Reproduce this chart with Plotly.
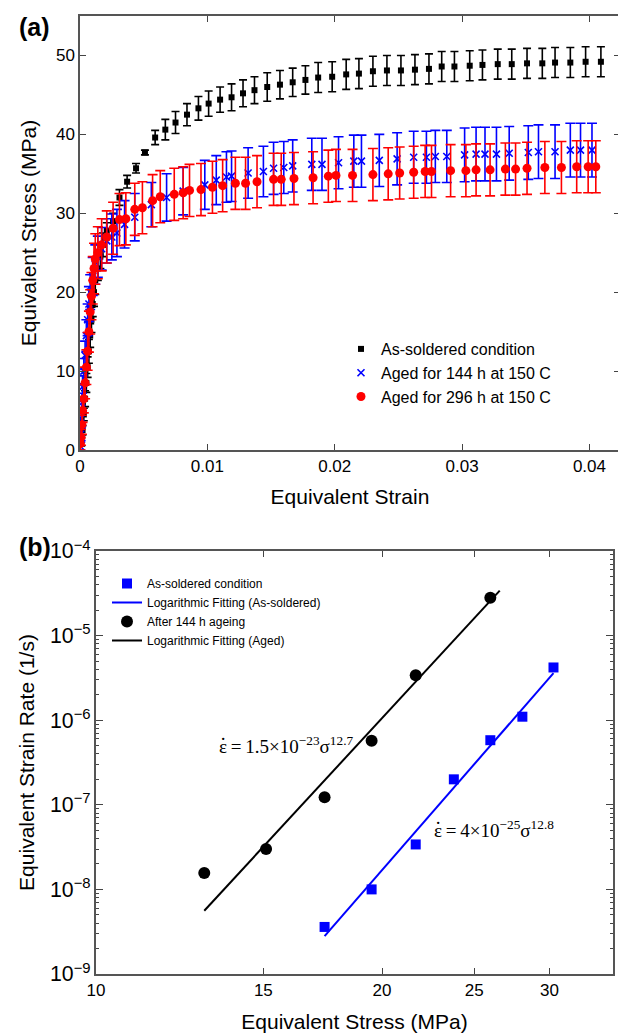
import plotly.graph_objects as go
import math

# ---------------- Panel (a) data ----------------
black_strain = [0.0001, 0.0002, 0.0003, 0.0004, 0.0005, 0.0006, 0.0007, 0.0008, 0.0009, 0.0010,
                0.0011, 0.0012, 0.0014, 0.0016, 0.0018,
                0.0021, 0.0026, 0.0031, 0.0037, 0.0044, 0.0051, 0.0059, 0.0067, 0.0075, 0.0084,
                0.0093, 0.0101, 0.0110, 0.0119, 0.0128, 0.0137, 0.0147, 0.0157, 0.0167, 0.0177,
                0.0187, 0.0198, 0.0209, 0.0219, 0.0230, 0.0241, 0.0252, 0.0263, 0.0274, 0.0284,
                0.0294, 0.0306, 0.0316, 0.0328, 0.0339, 0.0351, 0.0363, 0.0373, 0.0385, 0.0397, 0.0409]
black_stress = [1.0, 2.5, 4.5, 6.5, 8.5, 10.5, 12.5, 14.5, 16.5, 18.5,
                20.0, 21.5, 23.0, 24.5, 26.0,
                27.8, 29.0, 32.0, 34.0, 35.7, 37.7, 39.6, 40.6, 41.5, 42.5,
                43.3, 43.9, 44.4, 44.7, 45.2, 45.6, 46.0, 46.3, 46.6, 46.9,
                47.2, 47.3, 47.6, 47.7, 48.0, 48.1, 48.1, 48.2, 48.3, 48.6,
                48.6, 48.7, 48.8, 48.9, 48.9, 49.0, 49.0, 49.1, 49.1, 49.2, 49.2]
black_err = [0.5, 0.6, 0.8, 1.0, 1.2, 1.3, 1.5, 1.5, 1.6, 1.6,
             1.8, 1.8, 1.5, 1.5, 1.5,
             1.0, 1.0, 1.0, 0.8, 0.6, 0.3, 0.9, 1.3, 1.4, 1.4,
             1.5, 1.6, 1.6, 1.7, 1.7, 1.7, 1.8, 1.8, 1.8, 1.8,
             1.9, 1.9, 1.9, 1.9, 1.9, 1.9, 1.9, 1.9, 1.9, 1.9,
             1.9, 1.9, 1.9, 1.9, 1.9, 1.9, 1.9, 1.9, 1.9, 1.9, 1.9]

blue_strain = [0.00002, 0.00005, 0.0001, 0.00015, 0.0002, 0.0003, 0.0004, 0.0005, 0.0006, 0.0007,
               0.0008, 0.0010, 0.0012, 0.0014, 0.0017, 0.0021, 0.0025,
               0.0029, 0.0035, 0.0043, 0.0056, 0.0068, 0.0081, 0.0098, 0.0107, 0.0115, 0.0119,
               0.0132, 0.0144, 0.0152, 0.0160, 0.0167, 0.0182, 0.0190, 0.0203, 0.0215, 0.0221,
               0.0235, 0.0249, 0.0262, 0.0272, 0.0279, 0.0288, 0.0302, 0.0311, 0.0318, 0.0327,
               0.0337, 0.0352, 0.0360, 0.0373, 0.0385, 0.0393, 0.0402]
blue_stress = [0.5, 2.0, 4.0, 6.0, 8.0, 10.0, 12.0, 14.5, 16.5, 18.5,
               20.0, 22.0, 23.5, 24.5, 25.5, 26.5, 27.0,
               27.5, 28.6, 29.5, 31.1, 32.0, 32.8, 33.6, 34.2, 34.6, 34.7,
               35.1, 35.3, 35.7, 35.8, 36.0, 36.2, 36.2, 36.4, 36.6, 36.6,
               36.7, 36.9, 37.1, 37.1, 37.2, 37.2, 37.4, 37.5, 37.5, 37.5,
               37.6, 37.7, 37.8, 37.8, 38.0, 38.0, 38.0]
blue_err = [0.5, 0.8, 1.0, 1.2, 1.4, 1.6, 1.8, 2.0, 2.0, 2.2,
            2.2, 2.4, 2.5, 2.6, 2.7, 2.8, 2.9,
            3.0, 3.0, 3.0, 2.8, 3.0, 3.0, 3.1, 3.1, 3.2, 3.2,
            3.2, 3.2, 3.3, 3.3, 3.3, 3.3, 3.3, 3.3, 3.3, 3.3,
            3.3, 3.3, 3.3, 3.3, 3.3, 3.3, 3.4, 3.4, 3.4, 3.4,
            3.4, 3.4, 3.4, 3.4, 3.4, 3.4, 3.4]

red_strain = [0.00003, 0.00008, 0.00015, 0.0002, 0.0003, 0.0004, 0.0005, 0.0006, 0.0007, 0.0008,
              0.0009, 0.0010, 0.0011, 0.0012, 0.0014, 0.0017,
              0.0021, 0.0026, 0.0031, 0.0036, 0.0043, 0.0049, 0.0057, 0.0063, 0.0074, 0.0081,
              0.0086, 0.0095, 0.0104, 0.0112, 0.0122, 0.0130, 0.0139, 0.0152, 0.0158, 0.0168,
              0.0183, 0.0195, 0.0201, 0.0214, 0.0230, 0.0242, 0.0251, 0.0262, 0.0271, 0.0276,
              0.0291, 0.0303, 0.0311, 0.0322, 0.0334, 0.0342, 0.0351, 0.0365, 0.0378, 0.0390,
              0.0399, 0.0405]
red_stress = [0.8, 1.6, 3.2, 5.0, 6.5, 8.5, 10.5, 12.5, 15.0, 17.5,
              19.5, 21.5, 23.0, 24.2, 25.0, 26.0,
              27.0, 28.1, 29.2, 29.3, 30.5, 30.7, 31.6, 32.1, 32.4, 32.6,
              32.9, 33.0, 33.3, 33.5, 33.8, 33.8, 34.0, 34.3, 34.3, 34.4,
              34.5, 34.7, 34.8, 34.8, 34.9, 35.0, 35.1, 35.2, 35.3, 35.3,
              35.4, 35.4, 35.5, 35.5, 35.6, 35.6, 35.7, 35.8, 35.8, 35.9,
              35.9, 35.9]
red_err = [0.8, 1.0, 1.2, 1.5, 1.8, 2.0, 2.2, 2.4, 2.6, 2.8,
           3.0, 3.0, 3.2, 3.2, 3.3, 3.3,
           3.3, 3.3, 3.3, 3.3, 3.3, 3.3, 3.3, 3.3, 3.3, 3.3,
           3.3, 3.3, 3.3, 3.3, 3.3, 3.3, 3.3, 3.3, 3.3, 3.3,
           3.3, 3.3, 3.3, 3.3, 3.3, 3.3, 3.3, 3.3, 3.3, 3.3,
           3.3, 3.3, 3.3, 3.3, 3.3, 3.3, 3.3, 3.3, 3.3, 3.3,
           3.3, 3.3]

a_xticks = [0, 0.01, 0.02, 0.03, 0.04]
a_xticktext = ["0", "0.01", "0.02", "0.03", "0.04"]
a_yticks = [0, 10, 20, 30, 40, 50]

# ---------------- Panel (b) data ----------------
as_stress = [17.4, 19.5, 21.7, 23.8, 26.0, 28.1, 30.3]
as_rate = [3.6e-9, 1.0e-8, 3.4e-8, 2.0e-7, 5.8e-7, 1.1e-6, 4.2e-6]
aged_stress = [13.0, 15.1, 17.4, 19.5, 21.7, 26.0]
aged_rate = [1.56e-8, 3.0e-8, 1.23e-7, 5.7e-7, 3.4e-6, 2.8e-5]
fit_as_stress = [17.4, 30.3]
fit_as_rate = [2.8e-9, 3.6e-6]
fit_aged_stress = [13.0, 26.6]
fit_aged_rate = [5.6e-9, 3.4e-5]

b_xticks = [10, 15, 20, 25, 30]
b_xticktext = ["10", "15", "20", "25", "30"]

for a, b in [(black_strain, black_stress), (black_strain, black_err), (blue_strain, blue_stress),
             (blue_strain, blue_err), (red_strain, red_stress), (red_strain, red_err)]:
    assert len(a) == len(b), (len(a), len(b))

W, H = 626, 1034
OFF = 8  # page body margin
FONT = "Liberation Sans, Arial, Helvetica, sans-serif"
SERIF = "Liberation Serif, Times New Roman, serif"

fig = go.Figure()

fig.add_trace(go.Scatter(
    x=black_strain, y=black_stress, mode="markers", name="As-soldered condition",
    marker=dict(symbol="square", size=6, color="black"),
    error_y=dict(type="data", array=black_err, color="black", thickness=1.6, width=4),
    xaxis="x", yaxis="y", legend="legend"))
fig.add_trace(go.Scatter(
    x=blue_strain, y=blue_stress, mode="markers", name="Aged for 144 h at 150 C",
    marker=dict(symbol="x-thin", size=7, color="blue", line=dict(width=1.6, color="blue")),
    error_y=dict(type="data", array=blue_err, color="blue", thickness=1.6, width=5),
    xaxis="x", yaxis="y", legend="legend"))
fig.add_trace(go.Scatter(
    x=red_strain, y=red_stress, mode="markers", name="Aged for 296 h at 150 C",
    marker=dict(symbol="circle", size=9, color="red"),
    error_y=dict(type="data", array=red_err, color="red", thickness=1.6, width=5),
    xaxis="x", yaxis="y", legend="legend"))

fig.add_trace(go.Scatter(
    x=as_stress, y=as_rate, mode="markers", name="As-soldered condition",
    marker=dict(symbol="square", size=10, color="blue"),
    xaxis="x2", yaxis="y2", legend="legend2"))
fig.add_trace(go.Scatter(
    x=fit_as_stress, y=fit_as_rate, mode="lines", name="Logarithmic Fitting (As-soldered)",
    line=dict(color="blue", width=2),
    xaxis="x2", yaxis="y2", legend="legend2"))
fig.add_trace(go.Scatter(
    x=aged_stress, y=aged_rate, mode="markers", name="After 144 h ageing",
    marker=dict(symbol="circle", size=12, color="black"),
    xaxis="x2", yaxis="y2", legend="legend2"))
fig.add_trace(go.Scatter(
    x=fit_aged_stress, y=fit_aged_rate, mode="lines", name="Logarithmic Fitting (Aged)",
    line=dict(color="black", width=2),
    xaxis="x2", yaxis="y2", legend="legend2"))

def px_x(p):
    return (p - OFF) / W

def px_y(p):
    return 1 - (p - OFF) / H

axis_common = dict(showgrid=False, zeroline=False, showline=True, mirror="allticks",
                   ticks="inside", tickcolor="#444", linecolor="#555", automargin=False,
                   tickfont=dict(family=FONT, size=17, color="black"))

fig.update_layout(
    width=W, height=H, margin=dict(l=0, r=0, t=0, b=0, autoexpand=False),
    paper_bgcolor="white", plot_bgcolor="white",
    font=dict(family=FONT, color="black"),
    xaxis=dict(domain=[px_x(80), px_x(620)], range=[0, 0.0424], anchor="y",
               tickvals=a_xticks, ticktext=a_xticktext, ticklen=6, linewidth=1.5,
               title=dict(text="Equivalent Strain", font=dict(family=FONT, size=21), standoff=14),
               **axis_common),
    yaxis=dict(domain=[px_y(450), px_y(16)], range=[0, 55], anchor="x",
               tickvals=a_yticks, ticklen=6, linewidth=1.5,
               title=dict(text="Equivalent Stress (MPa)", font=dict(family=FONT, size=21), standoff=14),
               **axis_common),
    xaxis2=dict(domain=[px_x(96), px_x(613)], type="log", range=[1, math.log10(35)], anchor="y2",
                tickvals=b_xticks, ticktext=b_xticktext, ticklen=6, linewidth=2,
                title=dict(text="Equivalent Stress (MPa)", font=dict(family=FONT, size=21), standoff=15),
                **axis_common),
    yaxis2=dict(domain=[px_y(974), px_y(551)], type="log", range=[-9, -4], anchor="x2",
                dtick=1, exponentformat="power", showexponent="all", ticklen=7, linewidth=2,
                minor=dict(ticks="inside", ticklen=3, dtick="D1", tickcolor="#444", showgrid=False),
                title=dict(text="Equivalent Strain Rate (1/s)", font=dict(family=FONT, size=21), standoff=10),
                **axis_common),
    legend=dict(x=px_x(341), y=px_y(332), xanchor="left", yanchor="top",
                bgcolor="rgba(0,0,0,0)", font=dict(family=FONT, size=16, color="black"),
                tracegroupgap=0),
    legend2=dict(x=px_x(107), y=px_y(569), xanchor="left", yanchor="top",
                 bgcolor="rgba(0,0,0,0)", font=dict(family=FONT, size=12, color="black"),
                 tracegroupgap=0),
    showlegend=True,
)

fig.add_annotation(text="<b>(a)</b>", x=px_x(17), y=px_y(27), xref="paper", yref="paper",
                   xanchor="left", yanchor="middle", showarrow=False,
                   font=dict(family=FONT, size=25, color="black"))
fig.add_annotation(text="<b>(b)</b>", x=px_x(17), y=px_y(547), xref="paper", yref="paper",
                   xanchor="left", yanchor="middle", showarrow=False,
                   font=dict(family=FONT, size=25, color="black"))

eqs = [("\u03b5\u2009=\u20091.5\u00d710<sup>\u221223</sup>\u03c3<sup>12.7</sup>", 217, 745),
       ("\u03b5\u2009=\u20094\u00d710<sup>\u221225</sup>\u03c3<sup>12.8</sup>", 432, 829)]
for txt, ex, ey in eqs:
    fig.add_annotation(text=txt, x=px_x(ex), y=px_y(ey), xref="paper", yref="paper",
                       xanchor="left", yanchor="middle", showarrow=False,
                       font=dict(family=SERIF, size=19, color="black"))
    # dot over epsilon
    fig.add_annotation(text="\u00b7", x=px_x(ex + 6), y=px_y(ey - 7), xref="paper", yref="paper",
                       xanchor="center", yanchor="middle", showarrow=False,
                       font=dict(family=SERIF, size=19, color="black"))

fig.write_html("out.html")
